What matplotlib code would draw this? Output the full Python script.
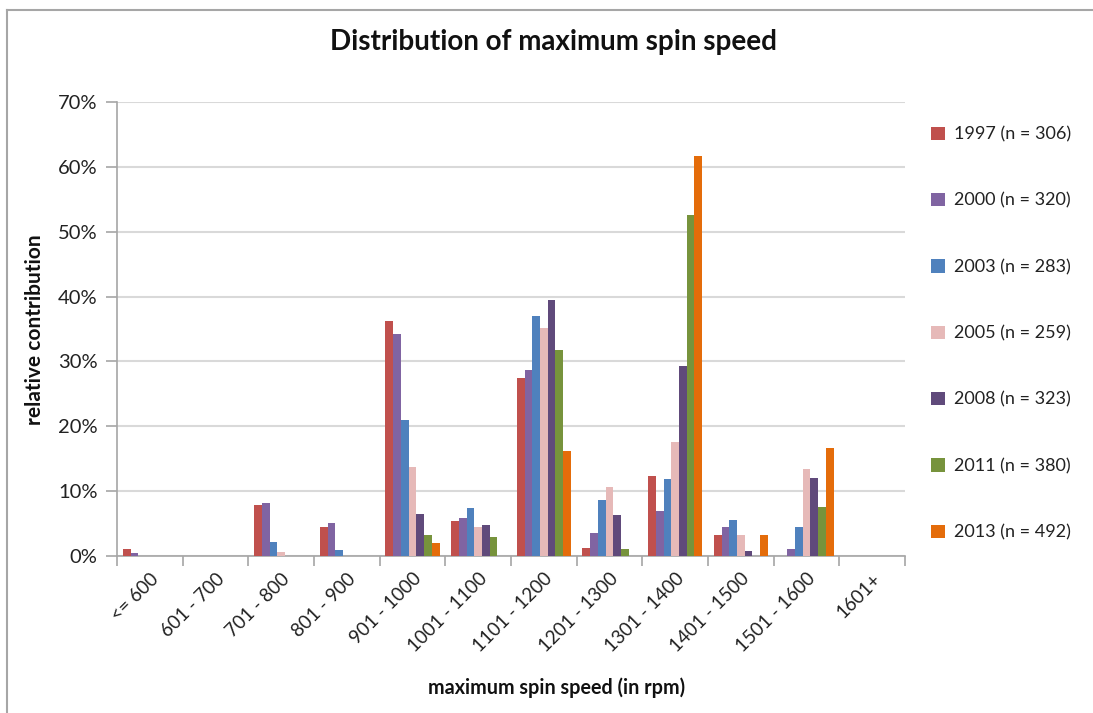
import matplotlib
matplotlib.use("Agg")
import matplotlib.pyplot as plt
import numpy as np
from matplotlib.lines import Line2D

plt.rcParams['font.family'] = ['Lato', 'DejaVu Sans']

categories = ["<= 600", "601 - 700", "701 - 800", "801 - 900", "901 - 1000",
              "1001 - 1100", "1101 - 1200", "1201 - 1300", "1301 - 1400",
              "1401 - 1500", "1501 - 1600", "1601+"]
series_labels = ["1997 (n = 306)", "2000 (n = 320)", "2003 (n = 283)",
                 "2005 (n = 259)", "2008 (n = 323)", "2011 (n = 380)",
                 "2013 (n = 492)"]
v1997 = [1.1, 0, 7.8, 4.5, 36.3, 5.4, 27.4, 1.2, 12.3, 3.2, 0, 0]
v2000 = [0.5, 0, 8.1, 5.1, 34.3, 5.8, 28.7, 3.5, 6.9, 4.5, 1.1, 0]
v2003 = [0, 0, 2.1, 0.9, 21.0, 7.4, 37.0, 8.6, 11.8, 5.6, 4.5, 0]
v2005 = [0, 0, 0.6, 0, 13.7, 4.4, 35.1, 10.6, 17.6, 3.3, 13.4, 0]
v2008 = [0, 0, 0, 0, 6.4, 4.8, 39.5, 6.3, 29.3, 0.8, 12.0, 0]
v2011 = [0, 0, 0, 0, 3.2, 3.0, 31.7, 1.1, 52.6, 0, 7.5, 0]
v2013 = [0, 0, 0, 0, 2.0, 0, 16.2, 0, 61.6, 3.2, 16.7, 0]
series = [v1997, v2000, v2003, v2005, v2008, v2011, v2013]
colors = ["#C0504D", "#8064A2", "#4F81BD", "#E6B9B8", "#604A7B", "#77933C", "#E46C0A"]
yticks = [0, 10, 20, 30, 40, 50, 60, 70]

W, H = 1093, 713
fig = plt.figure(figsize=(W / 100, H / 100), dpi=100)
fig.patch.set_facecolor("white")

# chart-area border (left and top edges visible)
fig.add_artist(Line2D([7 / W, 7 / W], [0, 1 - 10 / H], color="#A6A6A6", lw=1.5))
fig.add_artist(Line2D([7 / W, 1], [1 - 10 / H, 1 - 10 / H], color="#A6A6A6", lw=1.5))

L, R, T, B = 117, 905, 102, 556
ax = fig.add_axes([L / W, 1 - B / H, (R - L) / W, (B - T) / H])

n = len(series)
bw = 1 / 8.5
x = np.arange(len(categories))
for i, (vals, c, lab) in enumerate(zip(series, colors, series_labels)):
    offs = (i - (n - 1) / 2) * bw
    ax.bar(x + 0.5 + offs, vals, width=bw, color=c, label=lab, zorder=3, linewidth=0)

ax.set_xlim(0, len(categories))
ax.set_ylim(0, 70)
ax.set_yticks(yticks)
ax.set_yticklabels([f"{t}%" for t in yticks], fontsize=14.5, color="#222222")
ax.yaxis.grid(True, color="#D9D9D9", lw=1.5, zorder=0)
ax.set_axisbelow(True)

ax.set_xticks(np.arange(len(categories) + 1))
ax.set_xticklabels([])
ax.set_xticks(x + 0.5, minor=True)
ax.set_xticklabels(categories, minor=True, rotation=45, ha="right",
                   rotation_mode="anchor", fontsize=13.5, color="#222222")
ax.tick_params(axis="x", which="minor", length=0, pad=10)
ax.tick_params(axis="x", which="major", length=7, color="#A6A6A6", width=1.2)
ax.tick_params(axis="y", length=8, color="#A6A6A6", width=1.2, pad=6)

for s in ["top", "right"]:
    ax.spines[s].set_visible(False)
for s in ["left", "bottom"]:
    ax.spines[s].set_color("#A6A6A6")
    ax.spines[s].set_linewidth(1.2)

fig.text(553 / W, 1 - 42 / H, "Distribution of maximum spin speed",
         ha="center", va="center", fontsize=20, fontweight="bold", color="#111111")
fig.text(35 / W, 1 - 330 / H, "relative contribution", rotation=90,
         ha="center", va="center", fontsize=15, fontweight="bold", color="#111111")
fig.text(557 / W, 1 - 688 / H, "maximum spin speed (in rpm)",
         ha="center", va="center", fontsize=14.2, fontweight="bold", color="#111111")

handles, labels = ax.get_legend_handles_labels()
fig.legend(handles, labels, loc="center left", bbox_to_anchor=(931 / W, 1 - 333.5 / H),
           frameon=False, fontsize=13, labelspacing=2.78, handlelength=0.75,
           handleheight=0.75, handletextpad=0.5, borderpad=0, borderaxespad=0,
           labelcolor="#222222")

fig.savefig("out.png", dpi=100, facecolor="white")
